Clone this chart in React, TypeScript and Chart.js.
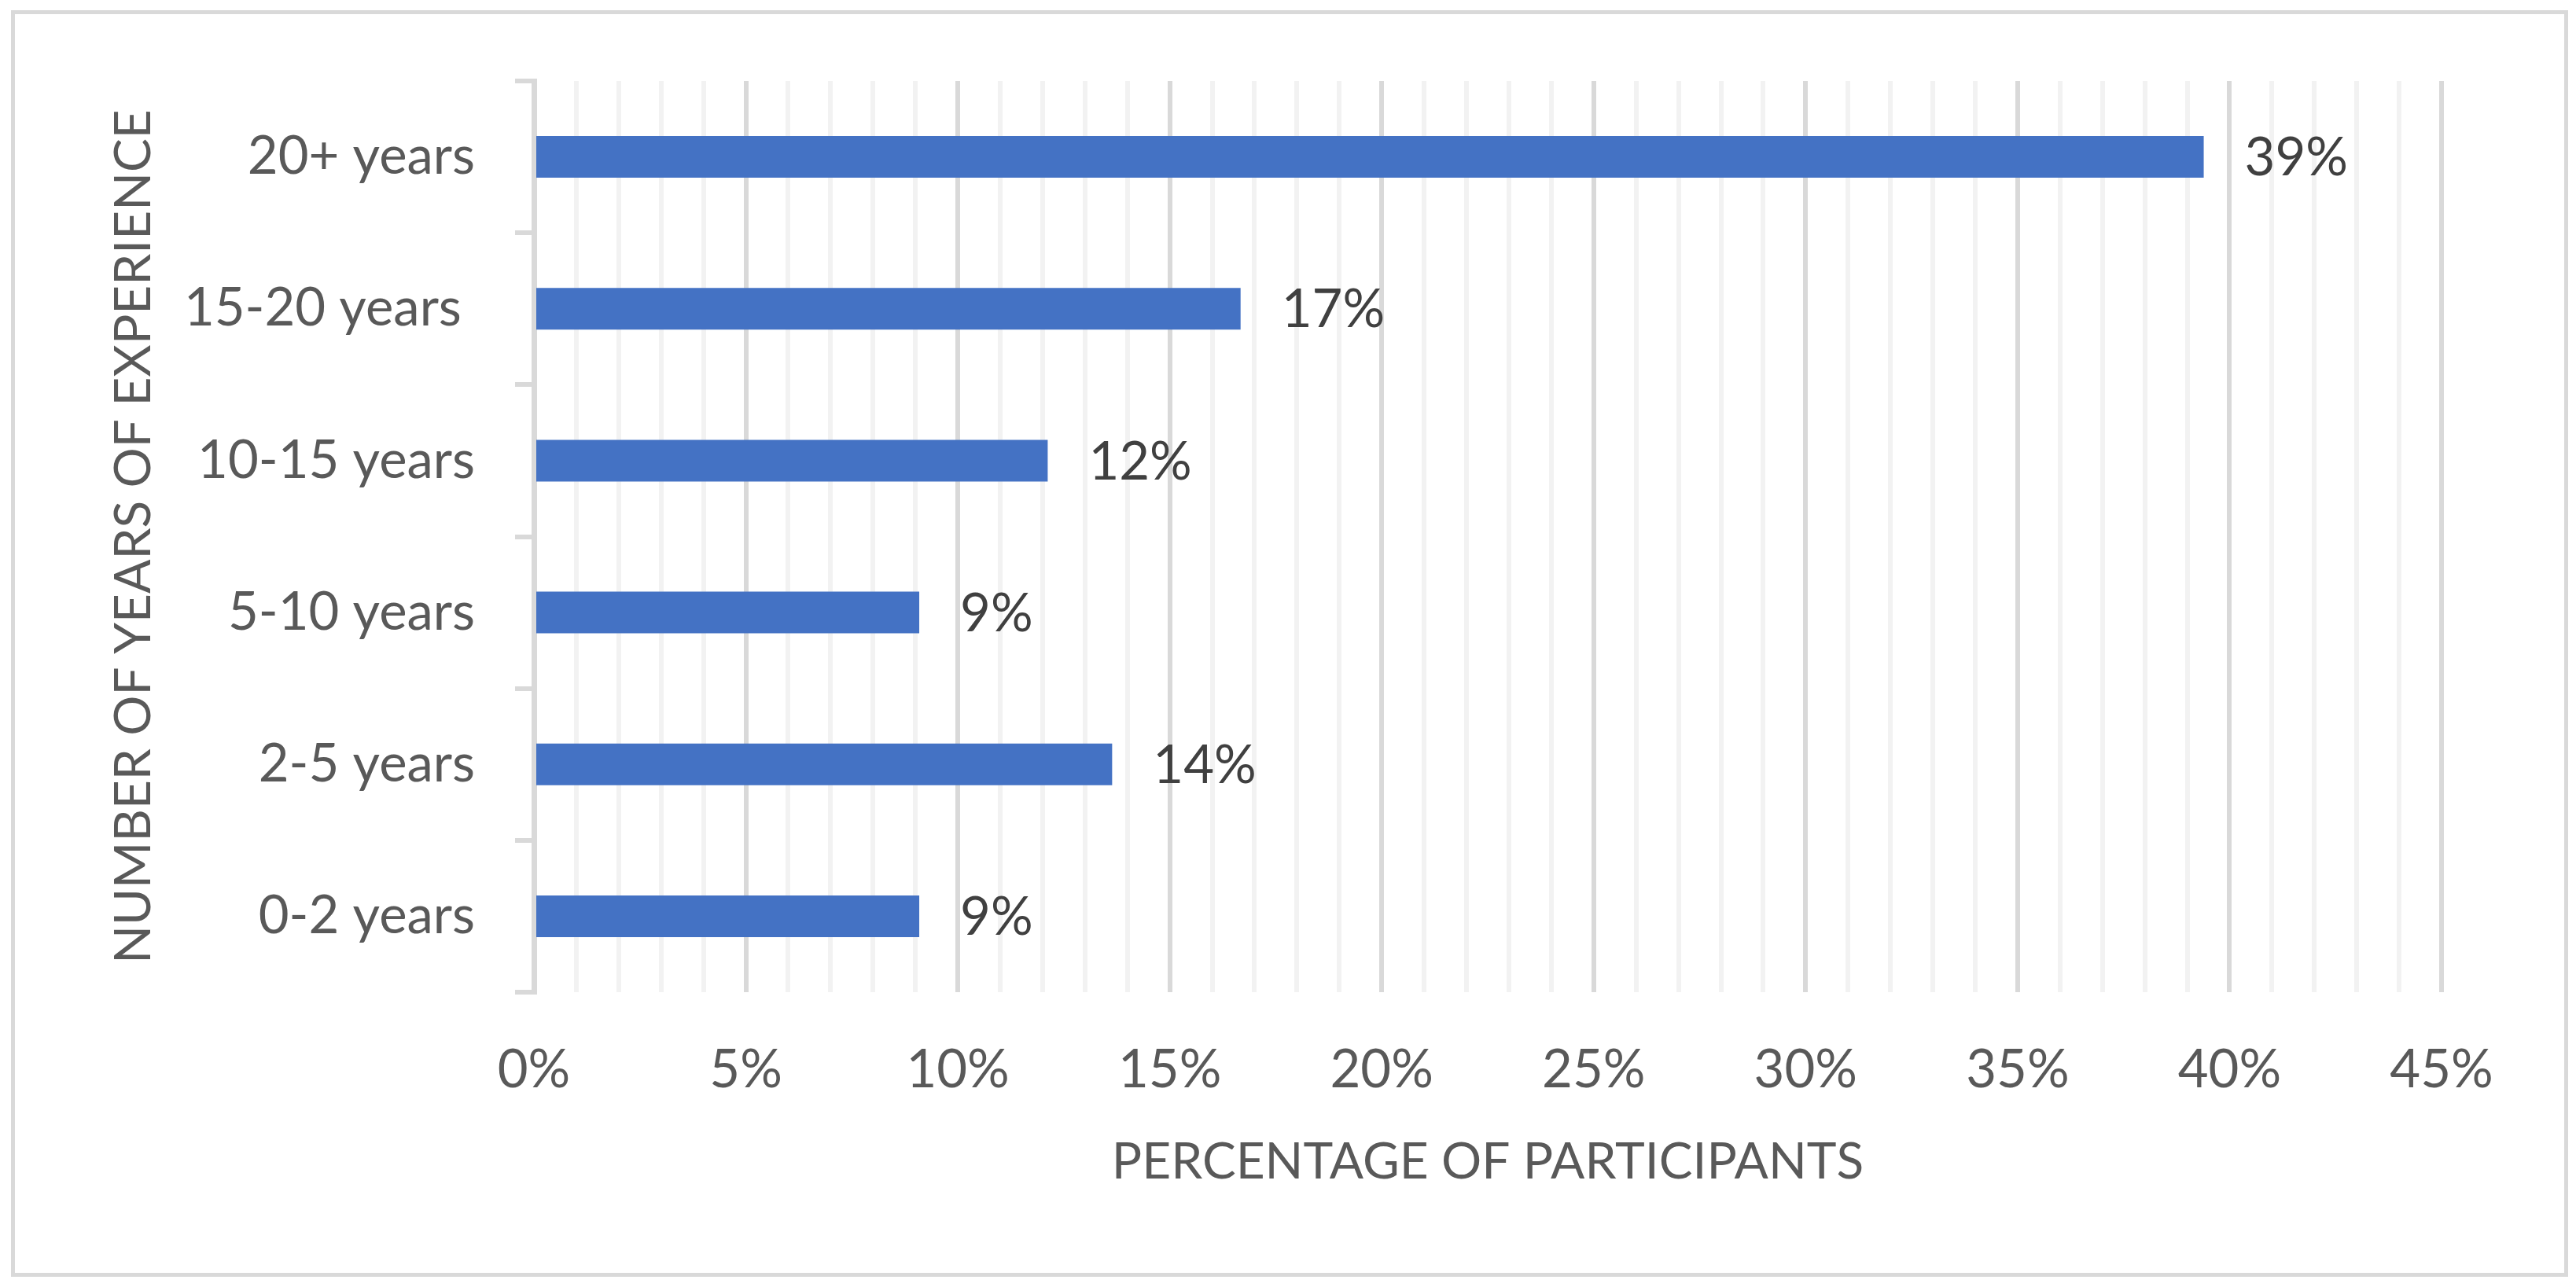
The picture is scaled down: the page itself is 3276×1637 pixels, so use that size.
import React, { useEffect, useRef } from 'react';
import { Chart, registerables } from 'chart.js';

Chart.register(...registerables);

// ---- data ----
const categories = ['0-2 years', '2-5 years', '5-10 years', '10-15 years', '15-20 years ', '20+ years'];
const percentages = [9.09, 13.64, 9.09, 12.12, 16.67, 39.39];
const xMin = 0;
const xMax = 45;
const xMinorStep = 1;
const xMajorStep = 5;
const xTitle = 'PERCENTAGE OF PARTICIPANTS';
const yTitle = 'NUMBER OF YEARS OF EXPERIENCE';

const FONT = 'Lato';
const FS = 67;
const TITLE_FS = 64;

const dataLabelPlugin = {
  id: 'dataLabels',
  afterDatasetsDraw(chart: any) {
    const ctx = chart.ctx;
    const meta = chart.getDatasetMeta(0);
    const data = chart.data.datasets[0].data as number[];
    ctx.save();
    ctx.font = `${FS}px ${FONT}`;
    ctx.fillStyle = '#404040';
    ctx.textAlign = 'left';
    ctx.textBaseline = 'middle';
    meta.data.forEach((bar: any, i: number) => {
      ctx.fillText(Math.round(data[i]) + '%', bar.x + 52, bar.y + 2);
    });
    ctx.restore();
  },
};

export default function App() {
  const ref = useRef<HTMLCanvasElement>(null);

  useEffect(() => {
    if (!ref.current) return;
    const chart = new Chart(ref.current, {
      type: 'bar',
      data: {
        labels: categories,
        datasets: [
          {
            data: percentages,
            backgroundColor: '#4472C4',
            borderWidth: 0,
            barPercentage: 0.274,
            categoryPercentage: 1,
          },
        ],
      },
      options: {
        indexAxis: 'y',
        animation: false,
        responsive: false,
        devicePixelRatio: 1,
        layout: { padding: { top: 103, right: 171, left: 0, bottom: 0 } },
        plugins: {
          legend: { display: false },
          tooltip: { enabled: false },
        },
        scales: {
          x: {
            type: 'linear',
            min: xMin,
            max: xMax,
            afterFit(scale: any) {
              scale.height = 375;
            },
            border: { display: false },
            grid: {
              drawTicks: false,
              lineWidth: 6,
              color: (c: any) =>
                c.tick && Math.round(c.tick.value) % xMajorStep === 0 ? '#D9D9D9' : '#F2F2F2',
            },
            ticks: {
              stepSize: xMinorStep,
              autoSkip: false,
              maxRotation: 0,
              padding: 59,
              color: '#595959',
              font: { family: FONT, size: FS },
              callback: (v: any) => (Math.round(v) % xMajorStep === 0 ? v + '%' : ''),
            },
            title: {
              display: true,
              text: xTitle,
              color: '#595959',
              font: { family: FONT, size: TITLE_FS },
              padding: { top: 0, bottom: 120 },
            },
          },
          y: {
            reverse: true,
            afterFit(scale: any) {
              scale.width = 679;
            },
            border: { display: true, color: '#D9D9D9', width: 7 },
            grid: {
              offset: true,
              drawOnChartArea: false,
              drawTicks: true,
              tickLength: 24,
              color: '#D9D9D9',
              lineWidth: 6,
            },
            ticks: {
              padding: 51,
              color: '#595959',
              font: { family: FONT, size: FS },
            },
            title: {
              display: true,
              text: yTitle,
              color: '#595959',
              font: { family: FONT, size: TITLE_FS },
              padding: { top: 132, bottom: 0 },
            },
          },
        },
      },
      plugins: [dataLabelPlugin],
    });
    return () => chart.destroy();
  }, []);

  return (
    <div style={{ position: 'fixed', left: 0, top: 0, width: 3276, height: 1637, background: '#ffffff' }}>
      <div
        style={{
          position: 'absolute',
          left: 14,
          top: 13,
          width: 3252,
          height: 1611,
          border: '5px solid #D9D9D9',
          boxSizing: 'border-box',
        }}
      />
      <canvas
        ref={ref}
        width={3276}
        height={1637}
        style={{ position: 'absolute', left: 0, top: 0, width: 3276, height: 1637 }}
      />
    </div>
  );
}
